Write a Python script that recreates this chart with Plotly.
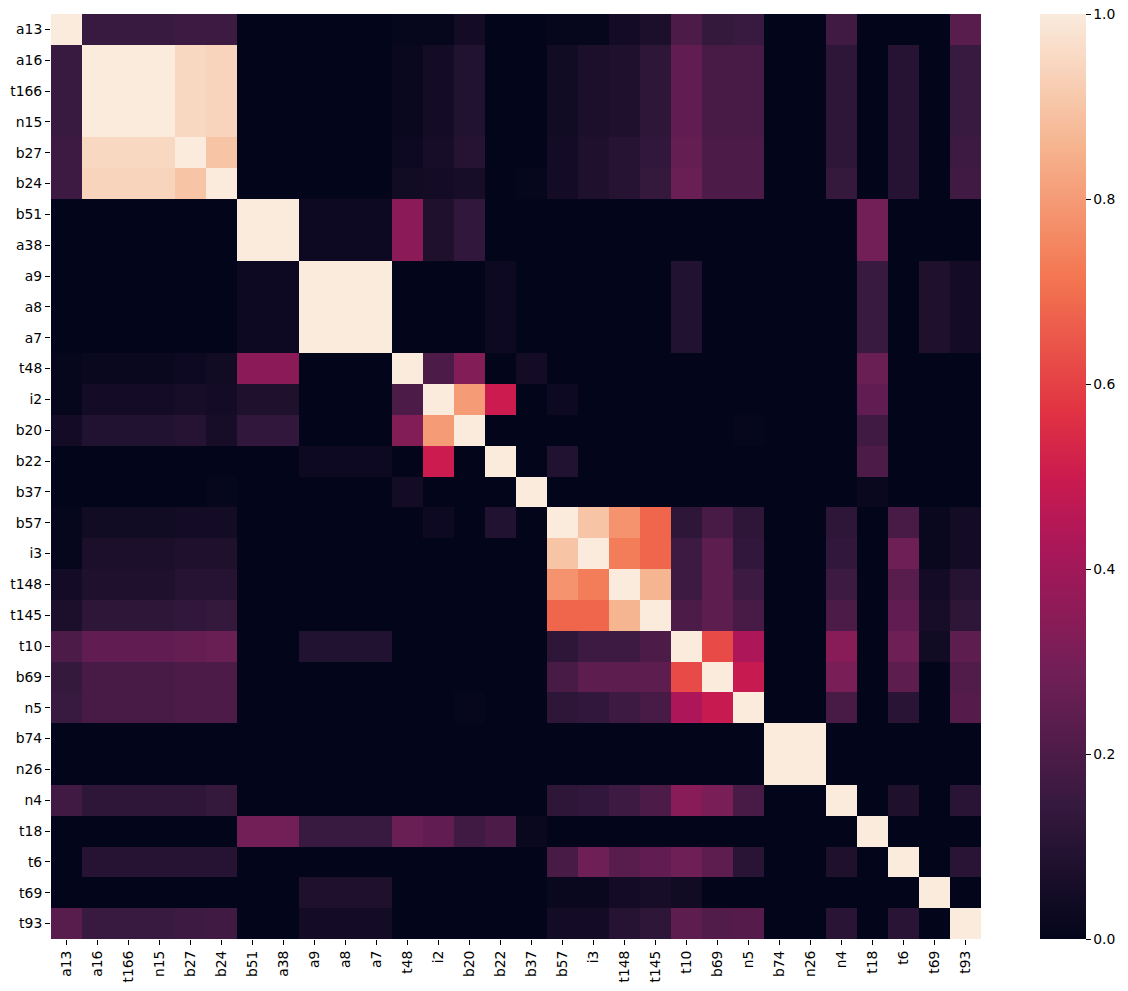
import plotly.graph_objects as go

labels = ["a13", "a16", "t166", "n15", "b27", "b24", "b51", "a38", "a9", "a8",
          "a7", "t48", "i2", "b20", "b22", "b37", "b57", "i3", "t148", "t145",
          "t10", "b69", "n5", "b74", "n26", "n4", "t18", "t6", "t69", "t93"]

row_a13 = [1, .15, .15, .15, .16, .16, 0, 0, 0, 0, 0, .01, .01, .05, 0, 0, .01, .01, .05, .07, .20, .14, .15, 0, 0, .17, 0, 0, 0, .23]
row_a16 = [.15, 1, 1, 1, .95, .94, 0, 0, 0, 0, 0, .02, .05, .09, 0, 0, .04, .07, .08, .12, .25, .19, .19, 0, 0, .12, 0, .10, 0, .15]
row_t166 = [.15, 1, 1, 1, .95, .94, 0, 0, 0, 0, 0, .02, .05, .09, 0, 0, .04, .07, .08, .12, .25, .19, .19, 0, 0, .12, 0, .10, 0, .15]
row_n15 = [.15, 1, 1, 1, .95, .94, 0, 0, 0, 0, 0, .02, .05, .09, 0, 0, .04, .07, .08, .12, .25, .19, .19, 0, 0, .12, 0, .10, 0, .15]
row_b27 = [.16, .95, .95, .95, 1, .90, 0, 0, 0, 0, 0, .03, .06, .10, 0, 0, .05, .08, .10, .13, .26, .20, .20, 0, 0, .12, 0, .10, 0, .16]
row_b24 = [.16, .94, .94, .94, .90, 1, 0, 0, 0, 0, 0, .04, .05, .06, 0, .01, .05, .08, .10, .14, .27, .20, .20, 0, 0, .14, 0, .10, 0, .17]
row_b51 = [0, 0, 0, 0, 0, 0, 1, 1, .03, .03, .03, .35, .08, .13, 0, 0, 0, 0, 0, 0, 0, 0, 0, 0, 0, 0, .29, 0, 0, 0]
row_a38 = [0, 0, 0, 0, 0, 0, 1, 1, .03, .03, .03, .35, .08, .13, 0, 0, 0, 0, 0, 0, 0, 0, 0, 0, 0, 0, .29, 0, 0, 0]
row_a9 = [0, 0, 0, 0, 0, 0, .03, .03, 1, 1, 1, 0, 0, 0, .03, 0, 0, 0, 0, 0, .09, 0, 0, 0, 0, 0, .15, 0, .08, .05]
row_a8 = [0, 0, 0, 0, 0, 0, .03, .03, 1, 1, 1, 0, 0, 0, .03, 0, 0, 0, 0, 0, .09, 0, 0, 0, 0, 0, .15, 0, .08, .05]
row_a7 = [0, 0, 0, 0, 0, 0, .03, .03, 1, 1, 1, 0, 0, 0, .03, 0, 0, 0, 0, 0, .09, 0, 0, 0, 0, 0, .15, 0, .08, .05]
row_t48 = [.01, .02, .02, .02, .03, .04, .35, .35, 0, 0, 0, 1, .20, .33, 0, .05, 0, 0, 0, 0, 0, 0, 0, 0, 0, 0, .27, 0, 0, 0]
row_i2 = [.01, .05, .05, .05, .06, .05, .08, .08, 0, 0, 0, .20, 1, .80, .50, 0, .03, 0, 0, 0, 0, 0, 0, 0, 0, 0, .25, 0, 0, 0]
row_b20 = [.05, .09, .09, .09, .10, .06, .13, .13, 0, 0, 0, .33, .80, 1, 0, 0, 0, 0, 0, 0, 0, 0, .01, 0, 0, 0, .17, 0, 0, 0]
row_b22 = [0, 0, 0, 0, 0, 0, 0, 0, .03, .03, .03, 0, .50, 0, 1, 0, .09, 0, 0, 0, 0, 0, 0, 0, 0, 0, .20, 0, 0, 0]
row_b37 = [0, 0, 0, 0, 0, .01, 0, 0, 0, 0, 0, .05, 0, 0, 0, 1, 0, 0, 0, 0, 0, 0, 0, 0, 0, 0, .02, 0, 0, 0]
row_b57 = [.01, .04, .04, .04, .05, .05, 0, 0, 0, 0, 0, 0, .03, 0, .09, 0, 1, .90, .78, .68, .12, .19, .12, 0, 0, .12, 0, .19, .02, .05]
row_i3 = [.01, .07, .07, .07, .08, .08, 0, 0, 0, 0, 0, 0, 0, 0, 0, 0, .90, 1, .73, .68, .16, .24, .13, 0, 0, .13, 0, .28, .02, .05]
row_t148 = [.05, .08, .08, .08, .10, .10, 0, 0, 0, 0, 0, 0, 0, 0, 0, 0, .78, .73, 1, .86, .16, .24, .16, 0, 0, .16, 0, .23, .05, .10]
row_t145 = [.07, .12, .12, .12, .13, .14, 0, 0, 0, 0, 0, 0, 0, 0, 0, 0, .68, .68, .86, 1, .20, .24, .19, 0, 0, .20, 0, .25, .06, .12]
row_t10 = [.20, .25, .25, .25, .26, .27, 0, 0, .09, .09, .09, 0, 0, 0, 0, 0, .12, .16, .16, .20, 1, .62, .43, 0, 0, .34, 0, .28, .04, .24]
row_b69 = [.14, .19, .19, .19, .20, .20, 0, 0, 0, 0, 0, 0, 0, 0, 0, 0, .19, .24, .24, .24, .62, 1, .49, 0, 0, .31, 0, .24, 0, .21]
row_n5 = [.15, .19, .19, .19, .20, .20, 0, 0, 0, 0, 0, 0, 0, .01, 0, 0, .12, .13, .16, .19, .43, .49, 1, 0, 0, .19, 0, .11, 0, .22]
row_b74 = [0, 0, 0, 0, 0, 0, 0, 0, 0, 0, 0, 0, 0, 0, 0, 0, 0, 0, 0, 0, 0, 0, 0, 1, 1, 0, 0, 0, 0, 0]
row_n26 = [0, 0, 0, 0, 0, 0, 0, 0, 0, 0, 0, 0, 0, 0, 0, 0, 0, 0, 0, 0, 0, 0, 0, 1, 1, 0, 0, 0, 0, 0]
row_n4 = [.17, .12, .12, .12, .12, .14, 0, 0, 0, 0, 0, 0, 0, 0, 0, 0, .12, .13, .16, .20, .34, .31, .19, 0, 0, 1, 0, .08, 0, .11]
row_t18 = [0, 0, 0, 0, 0, 0, .29, .29, .15, .15, .15, .27, .25, .17, .20, .02, 0, 0, 0, 0, 0, 0, 0, 0, 0, 0, 1, 0, 0, 0]
row_t6 = [0, .10, .10, .10, .10, .10, 0, 0, 0, 0, 0, 0, 0, 0, 0, 0, .19, .28, .23, .25, .28, .24, .11, 0, 0, .08, 0, 1, 0, .11]
row_t69 = [0, 0, 0, 0, 0, 0, 0, 0, .08, .08, .08, 0, 0, 0, 0, 0, .02, .02, .05, .06, .04, 0, 0, 0, 0, 0, 0, 0, 1, 0]
row_t93 = [.23, .15, .15, .15, .16, .17, 0, 0, .05, .05, .05, 0, 0, 0, 0, 0, .05, .05, .10, .12, .24, .21, .22, 0, 0, .11, 0, .11, 0, 1]

matrix = [row_a13, row_a16, row_t166, row_n15, row_b27, row_b24, row_b51, row_a38,
          row_a9, row_a8, row_a7, row_t48, row_i2, row_b20, row_b22, row_b37,
          row_b57, row_i3, row_t148, row_t145, row_t10, row_b69, row_n5, row_b74,
          row_n26, row_n4, row_t18, row_t6, row_t69, row_t93]

colorbar_ticks = [0.0, 0.2, 0.4, 0.6, 0.8, 1.0]

rocket = [
    [0.0, "#03051a"],
    [0.143, "#35193e"],
    [0.286, "#701f57"],
    [0.429, "#ad1759"],
    [0.5, "#cb1b4f"],
    [0.571, "#e13342"],
    [0.714, "#f37651"],
    [0.857, "#f6b48f"],
    [1.0, "#faebdd"],
]

FONT = "DejaVu Sans"
FS = 13.9
W, H = 1128, 991
ML, MR, MT, MB = 51, 147, 14, 52

fig = go.Figure(go.Heatmap(
    z=matrix, x=labels, y=labels,
    zmin=0, zmax=1, colorscale=rocket,
    xgap=0, ygap=0,
    colorbar=dict(
        xref="container", x=1040 / W, xanchor="left", xpad=0,
        y=0.5, yanchor="middle", len=1.0, lenmode="fraction", ypad=0,
        thickness=46, thicknessmode="pixels",
        outlinewidth=0,
        tickvals=colorbar_ticks, ticktext=[f"{v:.1f}" for v in colorbar_ticks],
        ticks="outside", ticklen=5, tickwidth=1, tickcolor="black",
        tickfont=dict(family=FONT, size=FS, color="black"),
    ),
))

fig.update_layout(
    width=W, height=H,
    margin=dict(l=ML, r=MR, t=MT, b=MB, pad=0, autoexpand=False),
    paper_bgcolor="white", plot_bgcolor="white",
    font=dict(family=FONT, size=FS, color="black"),
    xaxis=dict(
        type="category", tickangle=-90, ticks="outside", ticklen=5, tickwidth=1,
        tickcolor="black", showgrid=False, zeroline=False, showline=False,
        automargin=False,
        tickfont=dict(family=FONT, size=FS, color="black"),
    ),
    yaxis=dict(
        type="category", autorange="reversed", ticks="outside", ticklen=5, tickwidth=1,
        tickcolor="black", showgrid=False, zeroline=False, showline=False,
        automargin=False,
        tickfont=dict(family=FONT, size=FS, color="black"),
    ),
)

fig.write_html(
    "out.html",
    config={"displayModeBar": False},
    post_script="document.body.style.margin='0';document.body.style.overflow='hidden';",
)
